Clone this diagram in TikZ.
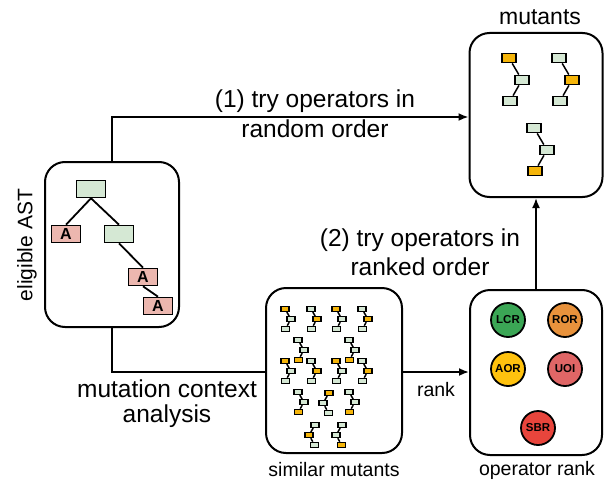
\documentclass[tikz,border=0pt]{standalone}
\usepackage{fontspec}
\setmainfont{Liberation Sans}
\usetikzlibrary{arrows.meta}
\definecolor{ngreen}{HTML}{D5E8D4}
\definecolor{nred}{HTML}{ECB7AF}
\definecolor{norange}{HTML}{F5B50A}
\definecolor{cLCR}{HTML}{3BA655}
\definecolor{cROR}{HTML}{E8923C}
\definecolor{cAOR}{HTML}{FFC20E}
\definecolor{cUOI}{HTML}{E06666}
\definecolor{cSBR}{HTML}{E8453C}
\tikzset{
  box/.style={draw, line width=2pt, rounded corners=20pt, inner sep=0pt},
  lbl/.style={font=\fontsize{24.5}{28}\selectfont, align=center, inner sep=0pt},
  slbl/.style={font=\fontsize{19.5}{22}\selectfont, align=center, inner sep=0pt},
  conn/.style={line width=1.8pt, -{Latex[length=10pt,width=8pt]}},
  plain/.style={line width=1.8pt},
  bign/.style={draw, line width=1.8pt, minimum width=14pt, minimum height=9pt, inner sep=0pt},
  smalln/.style={draw, line width=1.2pt, minimum width=8pt, minimum height=5pt, inner sep=0pt},
  astn/.style={draw, line width=1.6pt, minimum width=29pt, minimum height=17pt, inner sep=0pt, font=\fontsize{16}{16}\selectfont\bfseries},
  opc/.style={circle, draw, line width=1.8pt, minimum size=34pt, inner sep=0pt, font=\fontsize{11.5}{12}\selectfont\bfseries},
}
% #1 name, #2 x, #3 y, #4 xscale, #5 yscale, #6 node style, #7 c1, #8 c2, #9 c3
\newcommand{\mtree}[9]{%
  \begin{scope}[shift={(#2,#3)}, xscale=#4, yscale=#5]
    \node[#6, fill=#7] (#1a) at (0,0) {};
    \node[#6, fill=#8] (#1b) at (13,22) {};
    \node[#6, fill=#9] (#1c) at (1,43) {};
  \end{scope}
  \draw[line width=1.5pt] (#1a) -- (#1b) -- (#1c);
}
\begin{document}
\begin{tikzpicture}[x=1pt,y=-1pt]
\useasboundingbox (0,0) rectangle (607,487);
% boxes
\node[box, minimum width=134pt, minimum height=165pt] (ast) at (112,244.5) {};
\node[box, minimum width=136pt, minimum height=165pt] (sim) at (334,370.5) {};
\node[box, minimum width=132pt, minimum height=165pt] (opr) at (536,372.5) {};
\node[box, minimum width=133pt, minimum height=164pt] (mut) at (536,115) {};
% AST tree
\node[astn, fill=ngreen] (t1) at (91,189) {};
\node[astn, fill=nred] (t2) at (66,234) {A};
\node[astn, fill=ngreen] (t3) at (119,234) {};
\node[astn, fill=nred] (t4) at (143,277) {A};
\node[astn, fill=nred] (t5) at (158,306) {A};
\draw[plain] (t1.south) -- (t2.north);
\draw[plain] (t1.south) -- (t3.north);
\draw[plain] (t3.south) -- (t4.north);
\draw[plain] (t4.south) -- (t5.north);
% mutants
\mtree{ma}{509}{58}{1}{1}{bign}{norange}{ngreen}{ngreen}
\mtree{mb}{559}{58}{1}{1}{bign}{ngreen}{norange}{ngreen}
\mtree{mc}{534}{128}{1}{1}{bign}{ngreen}{ngreen}{norange}
% similar mutants
\def\s{0.46}
\mtree{sa}{285}{309}{\s}{\s}{smalln}{norange}{ngreen}{ngreen}
\mtree{sb}{311}{309}{\s}{\s}{smalln}{ngreen}{norange}{ngreen}
\mtree{sc}{336}{309}{\s}{\s}{smalln}{norange}{ngreen}{ngreen}
\mtree{sd}{362}{309}{\s}{\s}{smalln}{ngreen}{norange}{ngreen}
\mtree{se}{298}{340}{\s}{\s}{smalln}{ngreen}{ngreen}{norange}
\mtree{sf}{349}{340}{\s}{\s}{smalln}{ngreen}{ngreen}{norange}
\mtree{sg}{285}{361}{\s}{\s}{smalln}{norange}{ngreen}{ngreen}
\mtree{sh}{311}{361}{\s}{\s}{smalln}{ngreen}{norange}{ngreen}
\mtree{si}{336}{361}{\s}{\s}{smalln}{norange}{ngreen}{ngreen}
\mtree{sj}{362}{361}{\s}{\s}{smalln}{ngreen}{norange}{ngreen}
\mtree{sk}{298}{392}{\s}{\s}{smalln}{ngreen}{ngreen}{norange}
\mtree{sl}{329}{393}{-\s}{\s}{smalln}{norange}{ngreen}{ngreen}
\mtree{sm}{349}{392}{\s}{\s}{smalln}{ngreen}{ngreen}{norange}
\mtree{sn}{315}{425}{-\s}{\s}{smalln}{ngreen}{norange}{ngreen}
\mtree{so}{342}{425}{-\s}{\s}{smalln}{ngreen}{ngreen}{norange}
% operator circles
\node[opc, fill=cLCR] (lcr) at (508,320) {LCR};
\node[opc, fill=cROR] (ror) at (565,320) {ROR};
\node[opc, fill=cAOR] (aor) at (508,369) {AOR};
\node[opc, fill=cUOI] (uoi) at (565,369) {UOI};
\node[opc, fill=cSBR] (sbr) at (538,428) {SBR};
% connectors
\coordinate (c1) at (112,117);
\coordinate (c2) at (112,372);
\draw[conn] (ast.north) -- (c1) -- (mut.west |- c1);
\draw[plain] (ast.south) -- (c2) -- (sim.west |- c2);
\draw[conn] (sim.east |- c2) -- (opr.west |- c2);
\draw[conn] (opr.north) -- (mut.south);
% labels
\node[lbl] (l1) at (315,101) {(1) try operators in};
\node[lbl] (l1b) at (315,129) {random order};
\node[lbl] (l2) at (420,240) {(2) try operators in};
\node[lbl] (l2b) at (420,267) {ranked order};
\node[lbl] (l3) at (167,389) {mutation context};
\node[lbl] (l3b) at (167,416) {analysis};
\node[slbl] (l4) at (436,390) {rank};
\node[slbl] (l5) at (334,470) {similar mutants};
\node[slbl] (l6) at (537,470) {operator rank};
\node[slbl, font=\fontsize{23}{26}\selectfont] (l7) at (540,17) {mutants};
\node[lbl, font=\fontsize{21}{24}\selectfont, rotate=90] (l8) at (27,245) {eligible AST};
\end{tikzpicture}
\end{document}
